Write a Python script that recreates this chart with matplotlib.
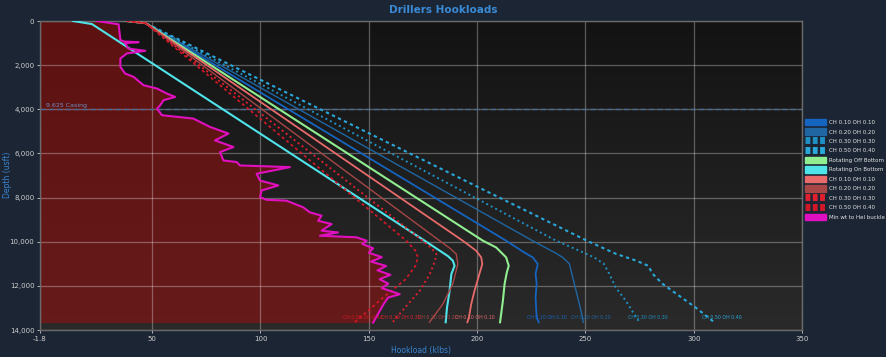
import numpy as np
import matplotlib.pyplot as plt
from matplotlib.lines import Line2D
from matplotlib.patches import Patch
from matplotlib.colors import LinearSegmentedColormap

# tick setup
x_ticks = [-1.8, 50, 100, 150, 200, 250, 300, 350]
x_tick_labels = ["-1.8", "50", "100", "150", "200", "250", "300", "350"]
y_ticks = [0, 2000, 4000, 6000, 8000, 10000, 12000, 14000]
y_tick_labels = ["0", "2,000", "4,000", "6,000", "8,000", "10,000", "12,000", "14,000"]

casing_depth = 4000
casing_label = "9.625 Casing"

# tripping out (blue) curves
blue10_depth = [0, 100, 9955, 10500, 10710, 11010, 11450, 11910, 12530, 13440, 13650]
blue10_load = [38.3, 47, 213.4, 222, 225.7, 228, 227, 227.5, 227, 227.5, 228.5]
blue20_depth = [0, 100, 9955, 10500, 10710, 11000, 11320, 12225, 12820, 13440, 13650]
blue20_load = [38.3, 47, 225.6, 236, 239.5, 242.6, 243.4, 245.7, 247.2, 248.7, 249]
blue30_depth = [0, 100, 9955, 10400, 10710, 11000, 11450, 12075, 12680, 13200, 13650]
blue30_load = [38.3, 47, 236.5, 247, 254, 258.5, 261, 264, 268.7, 272, 275]
blue50_depth = [0, 100, 9955, 10545, 10860, 11090, 11450, 11900, 12220, 12990, 13650]
blue50_load = [38.3, 47, 250.7, 264, 273.5, 279, 281, 285.5, 290, 301, 309.5]

# rotating
rot_off_depth = [0, 100, 9955, 10260, 10710, 11090, 11400, 11910, 12680, 13650]
rot_off_load = [38.3, 47, 202.7, 208.8, 213.4, 214.6, 213.7, 212.7, 211.9, 210.6]
rot_on_depth = [0, 140, 9955, 10650, 10860, 11090, 11470, 12225, 12985, 13650]
rot_on_load = [13.5, 22.2, 175.8, 186.5, 188.8, 189.6, 188.1, 187.3, 186.1, 185.5]

# tripping in (red) curves
red10_depth = [0, 100, 9955, 10410, 10710, 11010, 11450, 12225, 12820, 13440, 13650]
red10_load = [38.3, 47, 193.4, 199.6, 201.9, 202.4, 201.1, 198.8, 197.3, 196.2, 195.5]
red20_depth = [0, 100, 9955, 10300, 10560, 11010, 11910, 12820, 13440, 13650]
red20_load = [38.3, 47, 182.7, 187.5, 190.4, 191.1, 188.8, 184.2, 179.6, 178]
red30_depth = [0, 100, 9955, 10300, 10560, 10900, 11500, 12225, 12900, 13650]
red30_load = [38.3, 47, 174.9, 179, 181.2, 180.5, 178, 173.5, 167.5, 161]
red50_depth = [0, 100, 9955, 10400, 10710, 11100, 11700, 12530, 13100, 13650]
red50_load = [38.3, 47, 167.3, 171.5, 172.7, 171.5, 167, 156.6, 150, 143.5]

# min weight to helical buckle
buckle_depth = [0, 150, 860, 930, 960, 1000, 1250, 1350, 1470, 1700, 2080, 2380, 2530,
                2910, 3060, 3290, 3440, 3590, 3820, 3970, 4270, 4420, 4800, 5100, 5410,
                5710, 5940, 6320, 6390, 6545, 6620, 6920, 7230, 7450, 7680, 7980, 8100,
                8140, 8440, 8670, 8820, 9050, 9200, 9500, 9580, 9730, 9800, 9955, 10100,
                10300, 10500, 10700, 10900, 11100, 11300, 11500, 11700, 11900, 12100,
                12225, 12380, 12530, 12800, 13140, 13665]
buckle_load = [24.5, 34.5, 35.3, 37, 43.7, 37.5, 39, 46.8, 38.3, 35.3, 35.3, 37.5, 41.4,
               46, 52.2, 56.8, 60.6, 55.2, 53.7, 52.2, 54.5, 69, 76.7, 85.2, 79,
               87.5, 81.3, 82.9, 89, 90.5, 113.6, 98.2, 99.8, 108.2, 100.5, 99.8, 102.8,
               112, 119.7, 122.8, 128.2, 126.6, 132.8, 128.2, 135.8, 127.4, 144.3, 149, 147,
               152, 150, 156, 151, 158, 154, 160, 155, 159, 156,
               159.7, 164.3, 158.9, 157, 155, 152]

dots = (0, (1, 1.6))
dashes = (0, (1.6, 1.6))
series = [
    ("CH 0.10 OH 0.10", blue10_depth, blue10_load, "#1565c0", "-", 1.3),
    ("CH 0.20 OH 0.20", blue20_depth, blue20_load, "#1f66a3", "-", 1.0),
    ("CH 0.30 OH 0.30", blue30_depth, blue30_load, "#1f90c4", dots, 1.4),
    ("CH 0.50 OH 0.40", blue50_depth, blue50_load, "#2aa8da", dashes, 1.5),
    ("Rotating Off Bottom", rot_off_depth, rot_off_load, "#90ee90", "-", 1.5),
    ("Rotating On Bottom", rot_on_depth, rot_on_load, "#4fe3ea", "-", 1.5),
    ("CH 0.10 OH 0.10", red10_depth, red10_load, "#e86a6a", "-", 1.3),
    ("CH 0.20 OH 0.20", red20_depth, red20_load, "#a84646", "-", 1.0),
    ("CH 0.30 OH 0.30", red30_depth, red30_load, "#e0202e", dots, 1.4),
    ("CH 0.50 OH 0.40", red50_depth, red50_load, "#d01828", dashes, 1.3),
]

fig = plt.figure(figsize=(8.86, 3.57), dpi=100, facecolor="#1b2534")
ax = fig.add_axes([40 / 886, 27 / 357, 762 / 886, 309 / 357])

# background gradient
bg = LinearSegmentedColormap.from_list("bg", ["#131313", "#2a2a2a"])
ax.imshow(np.linspace(0, 1, 256).reshape(-1, 1), extent=[-1.8, 350, 14000, 0],
          aspect="auto", cmap=bg, zorder=0)

ax.fill_betweenx(buckle_depth, -1.8, buckle_load, color="#901010", alpha=0.6, lw=0, zorder=1)

for name, d, l, c, ls, lw in series:
    ax.plot(l, d, color=c, ls=ls, lw=lw, zorder=3)
    if name.startswith("CH"):
        ax.text(l[-1] - 5.5, 13450, name, color=c, fontsize=3.4, va="center", zorder=4)

ax.plot(buckle_load, buckle_depth, color="#e010c0", lw=1.5, zorder=3)

ax.axhline(casing_depth, color="#4a6c94", ls="--", lw=1.0, dashes=(4, 2), zorder=2)
ax.text(1, casing_depth - 80, casing_label, color="#6f8fc2", fontsize=4.5, va="bottom")

ax.set_xlim(-1.8, 350)
ax.set_ylim(14000, 0)
ax.set_xticks(x_ticks)
ax.set_xticklabels(x_tick_labels)
ax.set_yticks(y_ticks)
ax.set_yticklabels(y_tick_labels)
ax.tick_params(colors="#cfcfcf", labelsize=5, length=2, width=0.6, pad=2)
ax.set_axisbelow("line")
ax.grid(True, color="white", alpha=0.3, lw=0.9)
for s in ax.spines.values():
    s.set_color("#6a6a6a")
    s.set_linewidth(1.0)

fig.text(0.5, 1 - 10 / 357, "Drillers Hookloads", ha="center", va="center",
         color="#3a8ad6", fontsize=7.5, fontweight="bold")
fig.text(421 / 886, 1 - 350 / 357, "Hookload (klbs)", ha="center", va="center",
         color="#3a86d0", fontsize=5.5)
fig.text(8 / 886, 1 - 175 / 357, "Depth (usft)", ha="center", va="center",
         rotation=90, color="#3a86d0", fontsize=5.5)

handles = []
for name, d, l, c, ls, lw in series:
    if ls in (dots, dashes):
        handles.append(Line2D([], [], color=c, ls=(0, (0.7, 0.35)), lw=5))
    else:
        handles.append(Patch(facecolor=c, edgecolor=c))
handles.append(Patch(facecolor="#e010c0", edgecolor="#e010c0"))
labels = [s[0] for s in series] + ["Min wt to Hel buckle"]
leg = fig.legend(handles, labels, loc="upper left", bbox_to_anchor=(805 / 886, 1 - 119 / 357),
                 fontsize=4.0, handlelength=3.8, handleheight=1.4, labelspacing=0.55,
                 handletextpad=0.6, frameon=False, borderaxespad=0, borderpad=0)
for t in leg.get_texts():
    t.set_color("#e6e6e6")

fig.savefig("out.png", dpi=100, facecolor=fig.get_facecolor())
